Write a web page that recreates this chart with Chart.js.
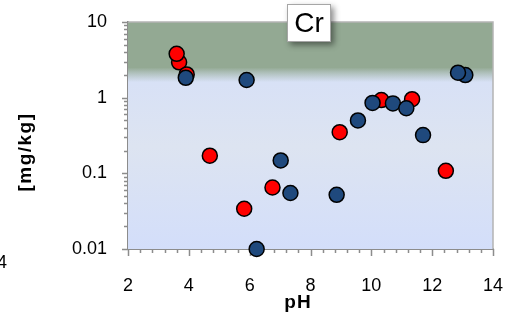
<!DOCTYPE html>
<html><head><meta charset="utf-8">
<script src="https://cdn.jsdelivr.net/npm/chart.js@4"></script>
<style>html,body{margin:0;padding:0;background:#fff;overflow:hidden}</style>
</head><body>
<canvas id="c" width="506" height="320"></canvas>
<script>
const chartTitle = 'Cr';
const xTitle = 'pH';
const yTitle = '[mg/kg]';
const neighbourFragment = '4';
const xTickValues = [2, 4, 6, 8, 10, 12, 14];
const yTickValues = [0.01, 0.1, 1, 10];
const xMinorStep = 0.4;
const bandSolidValue = 2.5;
const bandFadeValue = 1.6;

const redPH  = [3.68, 3.60, 3.93, 4.69, 5.82, 6.75, 8.96, 10.33, 11.34, 12.45];
const redVal = [2.93, 3.80, 2.03, 0.171, 0.034, 0.065, 0.35, 0.93, 0.955, 0.108];
const bluePH  = [3.90, 5.90, 6.23, 7.02, 7.34, 8.86, 9.56, 10.04, 10.71, 11.15, 11.70, 13.09, 12.85];
const blueVal = [1.83, 1.71, 0.010, 0.148, 0.055, 0.052, 0.50, 0.853, 0.84, 0.725, 0.32, 1.99, 2.14];

const FONT = 'Liberation Sans, Arial, sans-serif';
const toPts = (xs, ys) => xs.map((v, i) => ({x: v, y: ys[i]}));

const decor = {
  id: 'decor',
  beforeDatasetsDraw(chart) {
    const {ctx, chartArea: a, scales: {x, y}} = chart;
    ctx.save();
    const g = ctx.createLinearGradient(0, a.top, 0, a.bottom);
    g.addColorStop(0, '#d3defa');
    g.addColorStop(0.55, '#dde4f1');
    g.addColorStop(1, '#d3defa');
    ctx.fillStyle = g;
    ctx.fillRect(a.left, a.top, a.right - a.left, a.bottom - a.top);
    const ys = y.getPixelForValue(bandSolidValue);
    const yf = y.getPixelForValue(bandFadeValue);
    const gg = ctx.createLinearGradient(0, a.top, 0, yf);
    gg.addColorStop(0, 'rgb(147,169,147)');
    gg.addColorStop((ys - a.top) / (yf - a.top), 'rgb(147,169,147)');
    gg.addColorStop(1, 'rgba(160,180,165,0)');
    ctx.fillStyle = gg;
    ctx.fillRect(a.left, a.top, a.right - a.left, yf - a.top);
    ctx.strokeStyle = '#b4b4b4';
    ctx.lineWidth = 1.5;
    ctx.beginPath();
    ctx.moveTo(a.left, a.top); ctx.lineTo(a.right, a.top); ctx.lineTo(a.right, a.bottom);
    ctx.stroke();
    ctx.strokeStyle = '#8c8c8c';
    ctx.lineWidth = 1.5;
    ctx.beginPath();
    for (let d = -2; d < 1; d++) {
      for (let k = 2; k <= 9; k++) {
        const py = Math.round(y.getPixelForValue(k * Math.pow(10, d))) + 0.5;
        ctx.moveTo(a.left - 4, py); ctx.lineTo(a.left, py);
      }
    }
    yTickValues.forEach(v => {
      const py = Math.round(y.getPixelForValue(v)) + 0.5;
      ctx.moveTo(a.left - 6, py); ctx.lineTo(a.left, py);
    });
    for (let v = x.min; v <= x.max + 1e-9; v += xMinorStep) {
      const px = Math.round(x.getPixelForValue(v)) + 0.5;
      ctx.moveTo(px, a.bottom); ctx.lineTo(px, a.bottom + 4);
    }
    xTickValues.forEach(v => {
      const px = Math.round(x.getPixelForValue(v)) + 0.5;
      ctx.moveTo(px, a.bottom); ctx.lineTo(px, a.bottom + 7);
    });
    ctx.stroke();
    ctx.restore();
  },
  afterDraw(chart) {
    const {ctx} = chart;
    ctx.save();
    ctx.shadowColor = 'rgba(0,0,0,0.45)';
    ctx.shadowBlur = 6; ctx.shadowOffsetX = 3; ctx.shadowOffsetY = 3;
    ctx.fillStyle = '#fff';
    ctx.fillRect(287, 4, 44, 38);
    ctx.shadowColor = 'transparent';
    ctx.strokeStyle = '#a6a6a6'; ctx.lineWidth = 1;
    ctx.strokeRect(287.5, 4.5, 43, 37);
    ctx.fillStyle = '#000';
    ctx.textAlign = 'center'; ctx.textBaseline = 'middle';
    ctx.font = '28px ' + FONT;
    ctx.fillText(chartTitle, 309, 24);
    ctx.font = 'bold 19px ' + FONT;
    ctx.letterSpacing = '1px';
    ctx.fillText(xTitle, 298, 303);
    ctx.letterSpacing = '1.5px';
    ctx.save();
    ctx.translate(26, 152);
    ctx.rotate(-Math.PI / 2);
    ctx.fillText(yTitle, 0, 0);
    ctx.restore();
    ctx.letterSpacing = '0px';
    ctx.font = '18px ' + FONT;
    ctx.textAlign = 'right';
    ctx.fillText(neighbourFragment, 7, 263);
    ctx.restore();
  }
};

new Chart(document.getElementById('c'), {
  type: 'scatter',
  data: {
    datasets: [
      {data: toPts(bluePH, blueVal), backgroundColor: '#1f497d', borderColor: '#000', borderWidth: 1.5, pointRadius: 7.5, clip: false},
      {data: toPts(redPH, redVal), backgroundColor: '#ff0000', borderColor: '#000', borderWidth: 1.5, pointRadius: 7.5, clip: false}
    ]
  },
  options: {
    responsive: false,
    animation: false,
    events: [],
    layout: {padding: {left: 0, top: 22, right: 13, bottom: 0}},
    plugins: {legend: {display: false}, tooltip: {enabled: false}, title: {display: false}},
    scales: {
      x: {
        type: 'linear', min: 2, max: 14,
        afterBuildTicks: s => { s.ticks = xTickValues.map(v => ({value: v})); },
        afterFit: s => { s.height = 71; s.paddingLeft = 0; s.paddingRight = 0; s.paddingTop = 0; s.paddingBottom = 0; },
        grid: {display: false, drawTicks: false},
        border: {display: true, color: '#8c8c8c', width: 2},
        ticks: {padding: 26, color: '#000', autoSkip: false, maxRotation: 0, font: {family: FONT, size: 18}, callback: v => String(v)}
      },
      y: {
        type: 'logarithmic', min: 0.01, max: 10,
        afterBuildTicks: s => { s.ticks = yTickValues.map(v => ({value: v})); },
        afterFit: s => { s.width = 128; s.paddingLeft = 0; s.paddingRight = 0; s.paddingTop = 0; s.paddingBottom = 0; },
        grid: {display: false, drawTicks: false},
        border: {display: true, color: '#8c8c8c', width: 2},
        ticks: {padding: 21, color: '#000', autoSkip: false, font: {family: FONT, size: 18}, callback: v => String(v)}
      }
    }
  },
  plugins: [decor]
});
</script>
</body></html>
